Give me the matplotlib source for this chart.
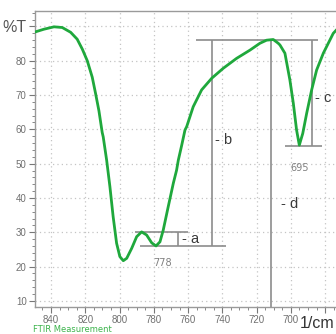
import matplotlib
matplotlib.use("Agg")
import matplotlib.pyplot as plt
from matplotlib.ticker import MultipleLocator

# ---- data ----
wavenumber = [849.9, 844.1, 838.2, 833.4, 828.5, 824.7, 821.7, 818.8, 815.9, 813.9,
              812.0, 810.1, 809.5, 807.5, 805.6, 803.7, 801.7, 799.8, 797.8, 795.8,
              792.9, 790.0, 787.1, 784.2, 781.2, 778.7, 776.4, 774.5, 771.6, 768.6,
              766.7, 765.7, 763.7, 761.8, 760.8, 757.0, 752.1, 746.2, 739.5, 731.7,
              723.9, 718.1, 714.2, 710.3, 707.4, 706.4, 703.5, 700.6, 698.6, 696.7,
              695.1, 693.1, 690.8, 687.9, 685.0, 681.1, 675.3, 672.5]
transmittance = [88.3, 89.2, 89.9, 89.7, 88.3, 86.3, 83.4, 80.0, 75.2, 70.3,
                 65.4, 59.1, 57.8, 51.0, 43.3, 34.5, 26.8, 22.9, 21.7, 22.4,
                 25.3, 28.7, 30.1, 29.2, 26.9, 26.0, 27.2, 30.6, 37.4, 44.3,
                 48.1, 51.0, 55.4, 59.8, 60.8, 66.6, 71.5, 74.9, 77.8, 80.7,
                 83.1, 85.1, 86.0, 86.2, 85.1, 84.6, 82.2, 74.4, 67.6, 59.8,
                 55.4, 58.8, 64.7, 71.5, 77.3, 82.2, 88.0, 89.5]

x_ticks = [840, 820, 800, 780, 760, 740, 720, 700, 680]
x_labels = ["840", "820", "800", "780", "760", "740", "720", "700", ""]
y_ticks = [10, 20, 30, 40, 50, 60, 70, 80, 90]
y_labels = ["10", "20", "30", "40", "50", "60", "70", "80", "%T"]

# peak / band levels used by the measurement markers
band_a_top = 30.1
band_a_bottom = 26.0
band_top = 86.1
band_c_bottom = 55.2
peak_label_1 = "778"
peak_label_2 = "695"

# ---- figure ----
fig = plt.figure(figsize=(3.36, 3.34), dpi=100)
ax = fig.add_axes([35 / 336, 27 / 334, 301 / 336, 296.3 / 334])
ax.set_xlim(849.3, 673.7)
ax.set_ylim(8.2, 94.6)

grey = "#9a9a9a"
for s in ["left", "bottom", "top"]:
    ax.spines[s].set_color(grey)
    ax.spines[s].set_linewidth(1.0)
ax.spines["right"].set_visible(False)

ax.set_xticks(x_ticks)
ax.set_xticklabels(x_labels)
ax.set_yticks(y_ticks)
ax.set_yticklabels(y_labels)
ax.xaxis.set_minor_locator(MultipleLocator(5))
ax.yaxis.set_minor_locator(MultipleLocator(2))
ax.tick_params(axis="both", which="major", length=4, width=0.8, color="#777777",
               labelsize=7, labelcolor="#707070", pad=2)
ax.tick_params(axis="both", which="minor", length=2, width=0.7, color="#888888")
ax.tick_params(top=False, right=False, which="both")
for lab in ax.get_xticklabels() + ax.get_yticklabels():
    lab.set_family("Liberation Sans")
for lab in ax.get_yticklabels():
    if lab.get_text() == "%T":
        lab.set_fontsize(11.5)
        lab.set_color("#555555")

ax.grid(True, which="major", linestyle=(0, (1, 2.5)), color="#c4c4c4", linewidth=0.9)
ax.set_axisbelow(True)

# measurement markers
lc = "#8c8c8c"
lw = 1.2
ax.hlines(band_a_top, 791.0, 760.1, color=lc, lw=lw)
ax.hlines(band_a_bottom, 788.1, 737.9, color=lc, lw=lw)
ax.vlines(765.7, band_a_bottom, band_a_top, color=lc, lw=lw)
ax.vlines(746.2, band_a_bottom, band_top, color=lc, lw=lw)
ax.hlines(band_top, 755.4, 684.2, color=lc, lw=lw)
ax.vlines(687.5, band_c_bottom, band_top, color=lc, lw=lw)
ax.hlines(band_c_bottom, 703.5, 682.0, color=lc, lw=lw)
ax.vlines(711.6, 8.2, band_top, color=lc, lw=lw)

# spectrum
ax.plot(wavenumber, transmittance, color="#1fa83c", lw=2.0, solid_capstyle="round",
        zorder=5)

tf = dict(family="Liberation Sans", color="#3a3a3a", fontsize=10.5, va="center",
          ha="left")
ax.text(763.6, 28.0, "- a", **tf)
ax.text(744.3, 56.9, "- b", **tf)
ax.text(686.0, 69.0, "- c", **tf)
ax.text(705.8, 38.1, "- d", **tf)
ax.text(774.7, 21.1, peak_label_1, fontsize=7, color="#808080", ha="center",
        va="center")
ax.text(695.1, 48.6, peak_label_2, fontsize=7, color="#808080", ha="center",
        va="center")

fig.text(317.5 / 336, 1 - 324 / 334, "1/cm", family="Liberation Sans",
         fontsize=11.5, color="#333333", ha="center", va="center")
fig.text(33 / 336, 1 - 330 / 334, "FTIR Measurement", fontsize=6,
         color="#3cb44c", ha="left", va="center")

fig.savefig("out.png", dpi=100)
